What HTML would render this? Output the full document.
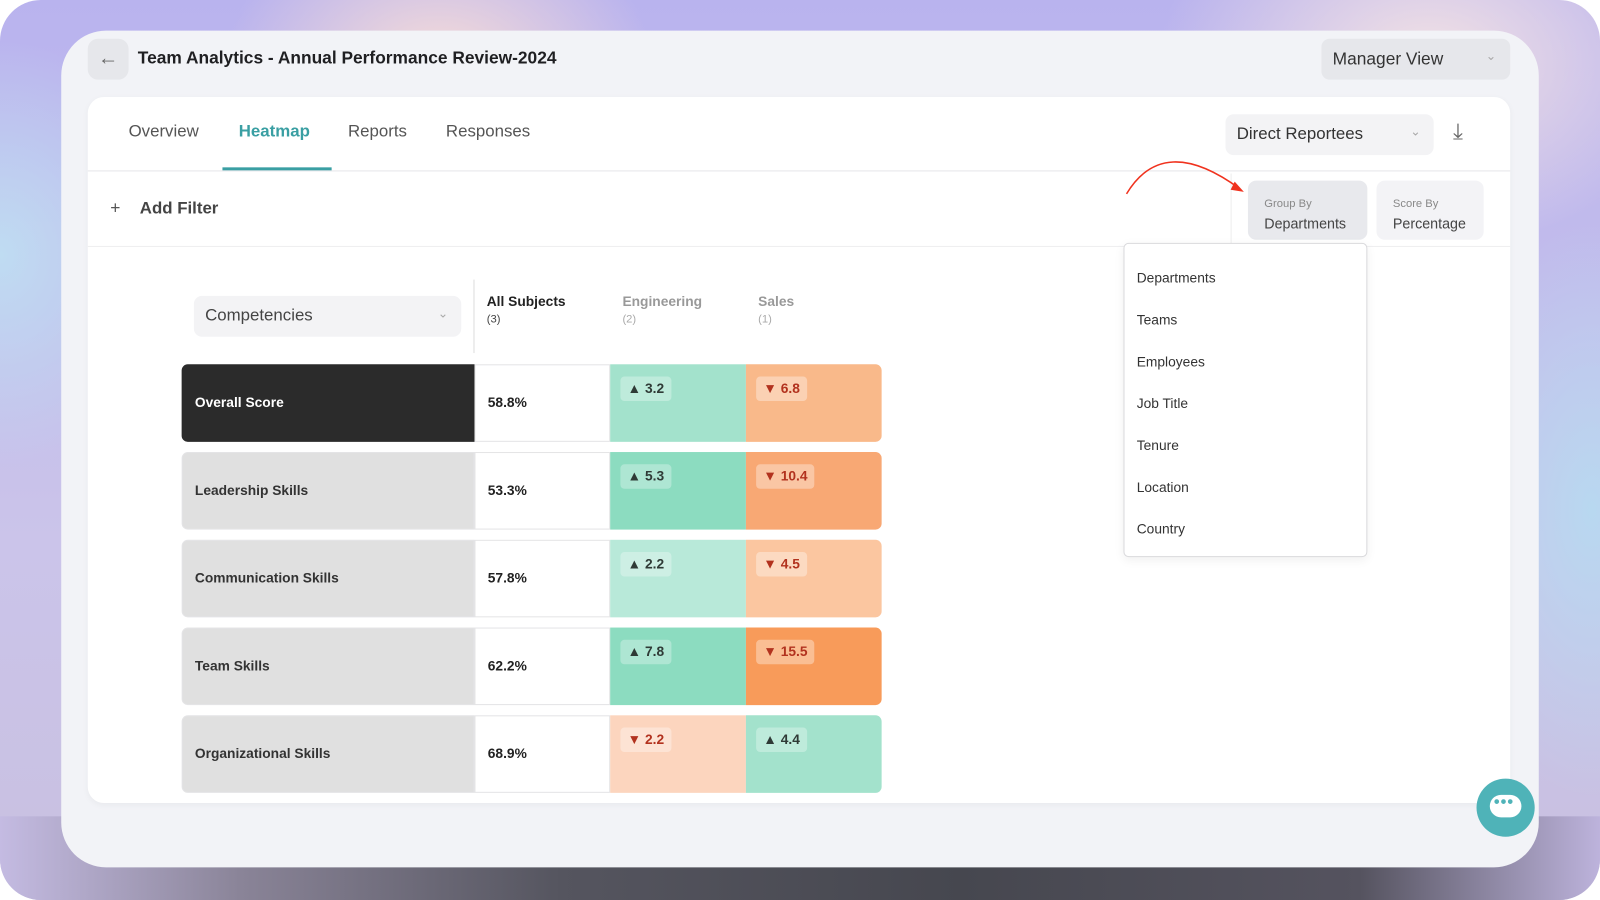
<!DOCTYPE html>
<html><head><style>
*{margin:0;padding:0;box-sizing:border-box}
html,body{width:1600px;height:900px;overflow:hidden;background:#fff}
body{font-family:"Liberation Sans",sans-serif;color:#2a2a2e}
#s{position:absolute;left:0;top:0;width:1568px;height:882px;transform:scale(1.020408);transform-origin:0 0;overflow:hidden;border-radius:40px;
background:radial-gradient(ellipse 300px 200px at 430px 60px,#f6dcd8,transparent 70%),radial-gradient(ellipse 380px 260px at 1400px 60px,#f3e2e4,transparent 70%),radial-gradient(ellipse 200px 400px at 1560px 500px,#b8d8f0,transparent 70%),radial-gradient(ellipse 250px 300px at 0px 250px,#bfdcf2,transparent 70%),linear-gradient(180deg,#b9b3ee 0%,#cbc4ea 60%,#c8c0e0 100%)}
.a{position:absolute}
#bot{left:0;top:800px;width:1568px;height:82px;background:linear-gradient(90deg,#c4bbe2 0%,#8a8498 15%,#55555f 35%,#46474f 60%,#55535f 85%,#bdb3dc 100%)}
#frame{left:60px;top:30px;width:1448px;height:820px;background:#f2f3f7;border-radius:44px}
#card{left:86px;top:95px;width:1394px;height:692px;background:#fff;border-radius:16px;box-shadow:0 2px 6px rgba(0,0,0,.04)}
.t{position:absolute;white-space:nowrap}
.cell{position:absolute;height:76px;border:1px solid #e4e4e6}
.lab{left:178px;width:287px;background:#e0e0e0;border-radius:6px 0 0 6px;font-weight:bold;font-size:13.5px;padding:0 12px;line-height:74px;color:#333}
.pct{left:465px;width:133px;background:#fff;font-size:13.5px;font-weight:bold;line-height:74px;padding-left:12px;color:#222}
.c1{left:598px;width:133px;border:none}
.c2{left:731px;width:133px;border:none;border-radius:0 6px 6px 0}
.b{position:absolute;left:10px;top:12px;height:24px;padding:0 7px;border-radius:4px;font-size:13.5px;font-weight:bold;line-height:24px}
.up{background:rgba(255,255,255,.3);color:#2f3a36}
.dn{background:rgba(255,255,255,.35);color:#b2321e}
.dd{font-size:13.5px;color:#333}
</style></head><body><div id="s">
<div class="a" id="bot"></div>
<div class="a" id="frame"></div>
<div class="a" style="left:86px;top:38px;width:40px;height:40px;background:#e6e7eb;border-radius:10px;color:#666;font-size:20px;text-align:center;line-height:38px">←</div>
<div class="t" style="left:135px;top:47px;font-size:17px;font-weight:bold;color:#1f1f22">Team Analytics - Annual Performance Review-2024</div>
<div class="a" style="left:1295px;top:38px;width:185px;height:40px;background:#e6e7eb;border-radius:8px"></div>
<div class="t" style="left:1306px;top:48px;font-size:17px;color:#333">Manager View</div>
<div class="t" style="left:1456px;top:48px;font-size:12px;color:#aaa">⌄</div>
<div class="a" id="card"></div>
<div class="t" style="left:126px;top:120px;font-size:16.5px;color:#555">Overview</div>
<div class="t" style="left:234px;top:120px;font-size:16.5px;color:#3a9fa3;font-weight:bold">Heatmap</div>
<div class="t" style="left:341px;top:120px;font-size:16.5px;color:#555">Reports</div>
<div class="t" style="left:437px;top:120px;font-size:16.5px;color:#555">Responses</div>
<div class="a" style="left:218px;top:164px;width:107px;height:3px;background:#3a9fa3"></div>
<div class="a" style="left:86px;top:167px;width:1394px;height:1px;background:#e6e6ea"></div>
<div class="a" style="left:1201px;top:112px;width:204px;height:40px;background:#f3f3f5;border-radius:8px"></div>
<div class="t" style="left:1212px;top:122px;font-size:16.5px;color:#333">Direct Reportees</div>
<div class="t" style="left:1382px;top:122px;font-size:12px;color:#aaa">⌄</div>
<div class="t" style="left:1424px;top:116px;font-size:22px;color:#666">⤓</div>
<div class="t" style="left:108px;top:194px;font-size:17px;color:#555">+</div>
<div class="t" style="left:137px;top:195px;font-size:16.5px;color:#444;font-weight:bold">Add Filter</div>
<div class="a" style="left:1206px;top:170px;width:1px;height:70px;background:#eee"></div>
<div class="a" style="left:86px;top:241px;width:1394px;height:1px;background:#eeeef0"></div>
<svg class="a" style="left:1100px;top:150px" width="130" height="45"><path d="M4 40 Q40 -20 115 35" fill="none" stroke="#f0321e" stroke-width="1.5"/><path d="M110 28 L119 38 L106 36Z" fill="#f0321e"/></svg>
<div class="a" style="left:1223px;top:177px;width:117px;height:58px;background:#e8e9ed;border-radius:8px"></div>
<div class="t" style="left:1239px;top:194px;font-size:11px;color:#888">Group By</div>
<div class="t" style="left:1239px;top:211px;font-size:14px;color:#444">Departments</div>
<div class="a" style="left:1349px;top:177px;width:105px;height:58px;background:#f3f3f6;border-radius:8px"></div>
<div class="t" style="left:1365px;top:194px;font-size:11px;color:#888">Score By</div>
<div class="t" style="left:1365px;top:211px;font-size:14px;color:#444">Percentage</div>
<div class="a" style="left:1101px;top:238px;width:239px;height:308px;background:#fff;border:1px solid #d9d9dc;border-radius:5px;box-shadow:0 3px 10px rgba(0,0,0,.06)"></div>
<div class="t dd" style="left:1114px;top:265px">Departments</div>
<div class="t dd" style="left:1114px;top:306px">Teams</div>
<div class="t dd" style="left:1114px;top:347px">Employees</div>
<div class="t dd" style="left:1114px;top:388px">Job Title</div>
<div class="t dd" style="left:1114px;top:429px">Tenure</div>
<div class="t dd" style="left:1114px;top:470px">Location</div>
<div class="t dd" style="left:1114px;top:511px">Country</div>
<div class="a" style="left:190px;top:290px;width:262px;height:40px;background:#f3f3f5;border-radius:8px"></div>
<div class="t" style="left:201px;top:300px;font-size:16.5px;color:#444">Competencies</div>
<div class="t" style="left:429px;top:300px;font-size:12px;color:#aaa">⌄</div>
<div class="a" style="left:464px;top:274px;width:1px;height:72px;background:#ddd"></div>
<div class="t" style="left:477px;top:288px;font-size:13.5px;font-weight:bold;color:#222">All Subjects</div>
<div class="t" style="left:477px;top:307px;font-size:11px;color:#444">(3)</div>
<div class="t" style="left:610px;top:288px;font-size:13.5px;font-weight:bold;color:#999">Engineering</div>
<div class="t" style="left:610px;top:307px;font-size:11px;color:#aaa">(2)</div>
<div class="t" style="left:743px;top:288px;font-size:13.5px;font-weight:bold;color:#999">Sales</div>
<div class="t" style="left:743px;top:307px;font-size:11px;color:#aaa">(1)</div>

<div class="cell lab" style="top:357px;background:#2b2b2b;color:#fff;border-color:#2b2b2b">Overall Score</div>
<div class="cell pct" style="top:357px">58.8%</div>
<div class="cell c1" style="top:357px;background:#a3e2cc"><div class="b up">▲ 3.2</div></div>
<div class="cell c2" style="top:357px;background:#f9b98a"><div class="b dn">▼ 6.8</div></div>

<div class="cell lab" style="top:443px">Leadership Skills</div>
<div class="cell pct" style="top:443px">53.3%</div>
<div class="cell c1" style="top:443px;background:#8cdcc0"><div class="b up">▲ 5.3</div></div>
<div class="cell c2" style="top:443px;background:#f8a874"><div class="b dn">▼ 10.4</div></div>

<div class="cell lab" style="top:529px">Communication Skills</div>
<div class="cell pct" style="top:529px">57.8%</div>
<div class="cell c1" style="top:529px;background:#b8e9d9"><div class="b up">▲ 2.2</div></div>
<div class="cell c2" style="top:529px;background:#fbc6a0"><div class="b dn">▼ 4.5</div></div>

<div class="cell lab" style="top:615px">Team Skills</div>
<div class="cell pct" style="top:615px">62.2%</div>
<div class="cell c1" style="top:615px;background:#8cdcc0"><div class="b up">▲ 7.8</div></div>
<div class="cell c2" style="top:615px;background:#f89b5a"><div class="b dn">▼ 15.5</div></div>

<div class="cell lab" style="top:701px">Organizational Skills</div>
<div class="cell pct" style="top:701px">68.9%</div>
<div class="cell c1" style="top:701px;background:#fcd5be"><div class="b dn">▼ 2.2</div></div>
<div class="cell c2" style="top:701px;background:#a3e2cc"><div class="b up">▲ 4.4</div></div>

<div class="a" style="left:1447px;top:763px;width:57px;height:57px;border-radius:50%;background:#4fb3b8"></div>
<div class="a" style="left:1460px;top:779px;width:31px;height:22px;border-radius:11px;background:#fff"></div>
<div class="t" style="left:1464px;top:778px;font-size:16px;color:#4fb3b8;font-weight:bold;letter-spacing:1px">•••</div>
</div></body></html>
